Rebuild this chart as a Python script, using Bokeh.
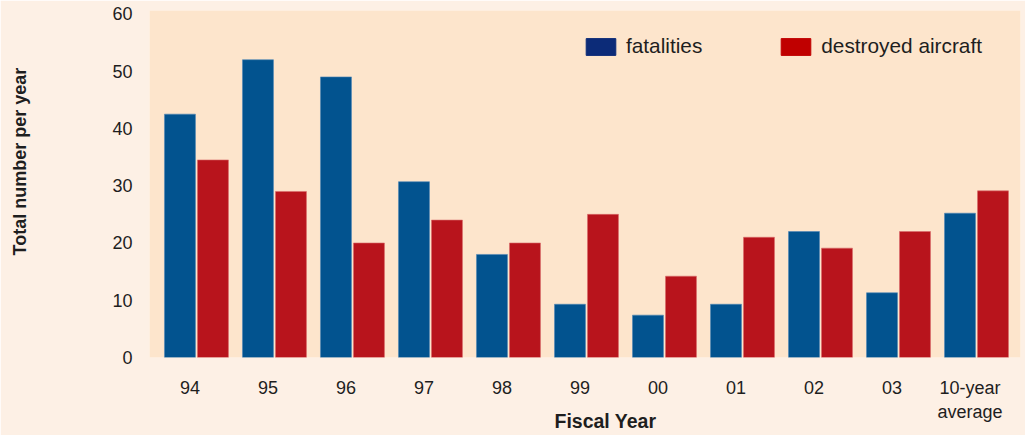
from bokeh.plotting import figure
from bokeh.models import (ColumnDataSource, FixedTicker, Legend, LegendItem, Title, Range1d)
from bokeh.embed import file_html
from bokeh.resources import INLINE

# ---- data ----
categories = ["94", "95", "96", "97", "98", "99", "00", "01", "02", "03", "10-year\naverage"]
fatalities = [42.5, 52, 49, 30.7, 18, 9.3, 7.4, 9.3, 22, 11.3, 25.2]
destroyed_aircraft = [34.5, 29, 20, 24, 20, 25, 14.2, 21, 19.1, 22, 29.1]
y_ticks = [0, 10, 20, 30, 40, 50, 60]

# ---- style ----
FONT = "Liberation Sans"
TXT = "#1e1e1e"
BLUE = "#02538f"
RED = "#b8141c"
LEG_BLUE = "#0c2b78"
LEG_RED = "#c00000"
PANEL = "#fde5cc"
OUTER = "#fdf0e5"

idx = list(range(len(categories)))
shift = 0.083
dodge = 0.2115
bw = 0.397

src = ColumnDataSource(dict(
    xf=[i + shift - dodge for i in idx],
    xd=[i + shift + dodge for i in idx],
    fat=fatalities,
    des=destroyed_aircraft,
))

p = figure(width=1025, height=435, output_backend="svg", toolbar_location=None,
           x_range=Range1d(-0.519, 10.647), y_range=Range1d(0, 60.6),
           min_border_left=149, min_border_right=5, min_border_top=10, min_border_bottom=78)

p.background_fill_color = PANEL
p.border_fill_color = OUTER
p.outline_line_color = None
p.xgrid.grid_line_color = None
p.ygrid.grid_line_color = None

p.vbar(x="xf", top="fat", width=bw, source=src, fill_color=BLUE,
       line_color="#4f86b5", line_width=1, line_alpha=0.6)
p.vbar(x="xd", top="des", width=bw, source=src, fill_color=RED,
       line_color="#d86a6a", line_width=1, line_alpha=0.6)

# legend swatches (legend colours differ from bar colours); no visible marks
nan = float("nan")
dummy = ColumnDataSource(dict(x=[nan], top=[nan]))
r_lf = p.vbar(x="x", top="top", width=0.1, source=dummy, fill_color=LEG_BLUE, line_color=LEG_BLUE)
r_ld = p.vbar(x="x", top="top", width=0.1, source=dummy, fill_color=LEG_RED, line_color=LEG_RED)
legend = Legend(items=[LegendItem(label="fatalities", renderers=[r_lf]),
                       LegendItem(label="destroyed aircraft", renderers=[r_ld])],
                orientation="horizontal", location=(433, 299),
                glyph_width=37, glyph_height=21, label_standoff=7, spacing=75,
                padding=0, margin=0, border_line_color=None, background_fill_alpha=0,
                label_text_font=FONT, label_text_font_size="20.8px", label_text_color=TXT,
                label_height=19)
p.add_layout(legend, "center")

# axes
for ax in (p.xaxis[0], p.yaxis[0]):
    ax.axis_line_color = None
    ax.major_tick_line_color = None
    ax.minor_tick_line_color = None
    ax.major_tick_out = 0
    ax.major_tick_in = 0
    ax.major_label_text_font = FONT
    ax.major_label_text_font_size = "18px"
    ax.major_label_text_color = TXT

p.xaxis.ticker = FixedTicker(ticks=idx)
p.xaxis.major_label_overrides = {i: c for i, c in zip(idx, categories)}
p.xaxis.major_label_standoff = 20
p.yaxis.ticker = FixedTicker(ticks=y_ticks)
p.yaxis.major_label_standoff = 17
# invisible spacer label to push the y title outward
p.yaxis.axis_label = "\u00a0"
p.yaxis.axis_label_text_font_size = "1px"
p.yaxis.axis_label_standoff = 72

p.add_layout(Title(text="Total number per year", align="left", offset=102, standoff=8,
                   text_font=FONT, text_font_size="18px", text_font_style="bold",
                   text_color=TXT), "left")
p.add_layout(Title(text="Fiscal Year", align="left", offset=405, standoff=-30,
                   vertical_align="top",
                   text_font=FONT, text_font_size="19.5px", text_font_style="bold",
                   text_color=TXT), "below")

html = file_html(p, INLINE)
html = html.replace("<body>", '<body style="background:#fdf0e5">', 1)
open("out.html", "w").write(html)
